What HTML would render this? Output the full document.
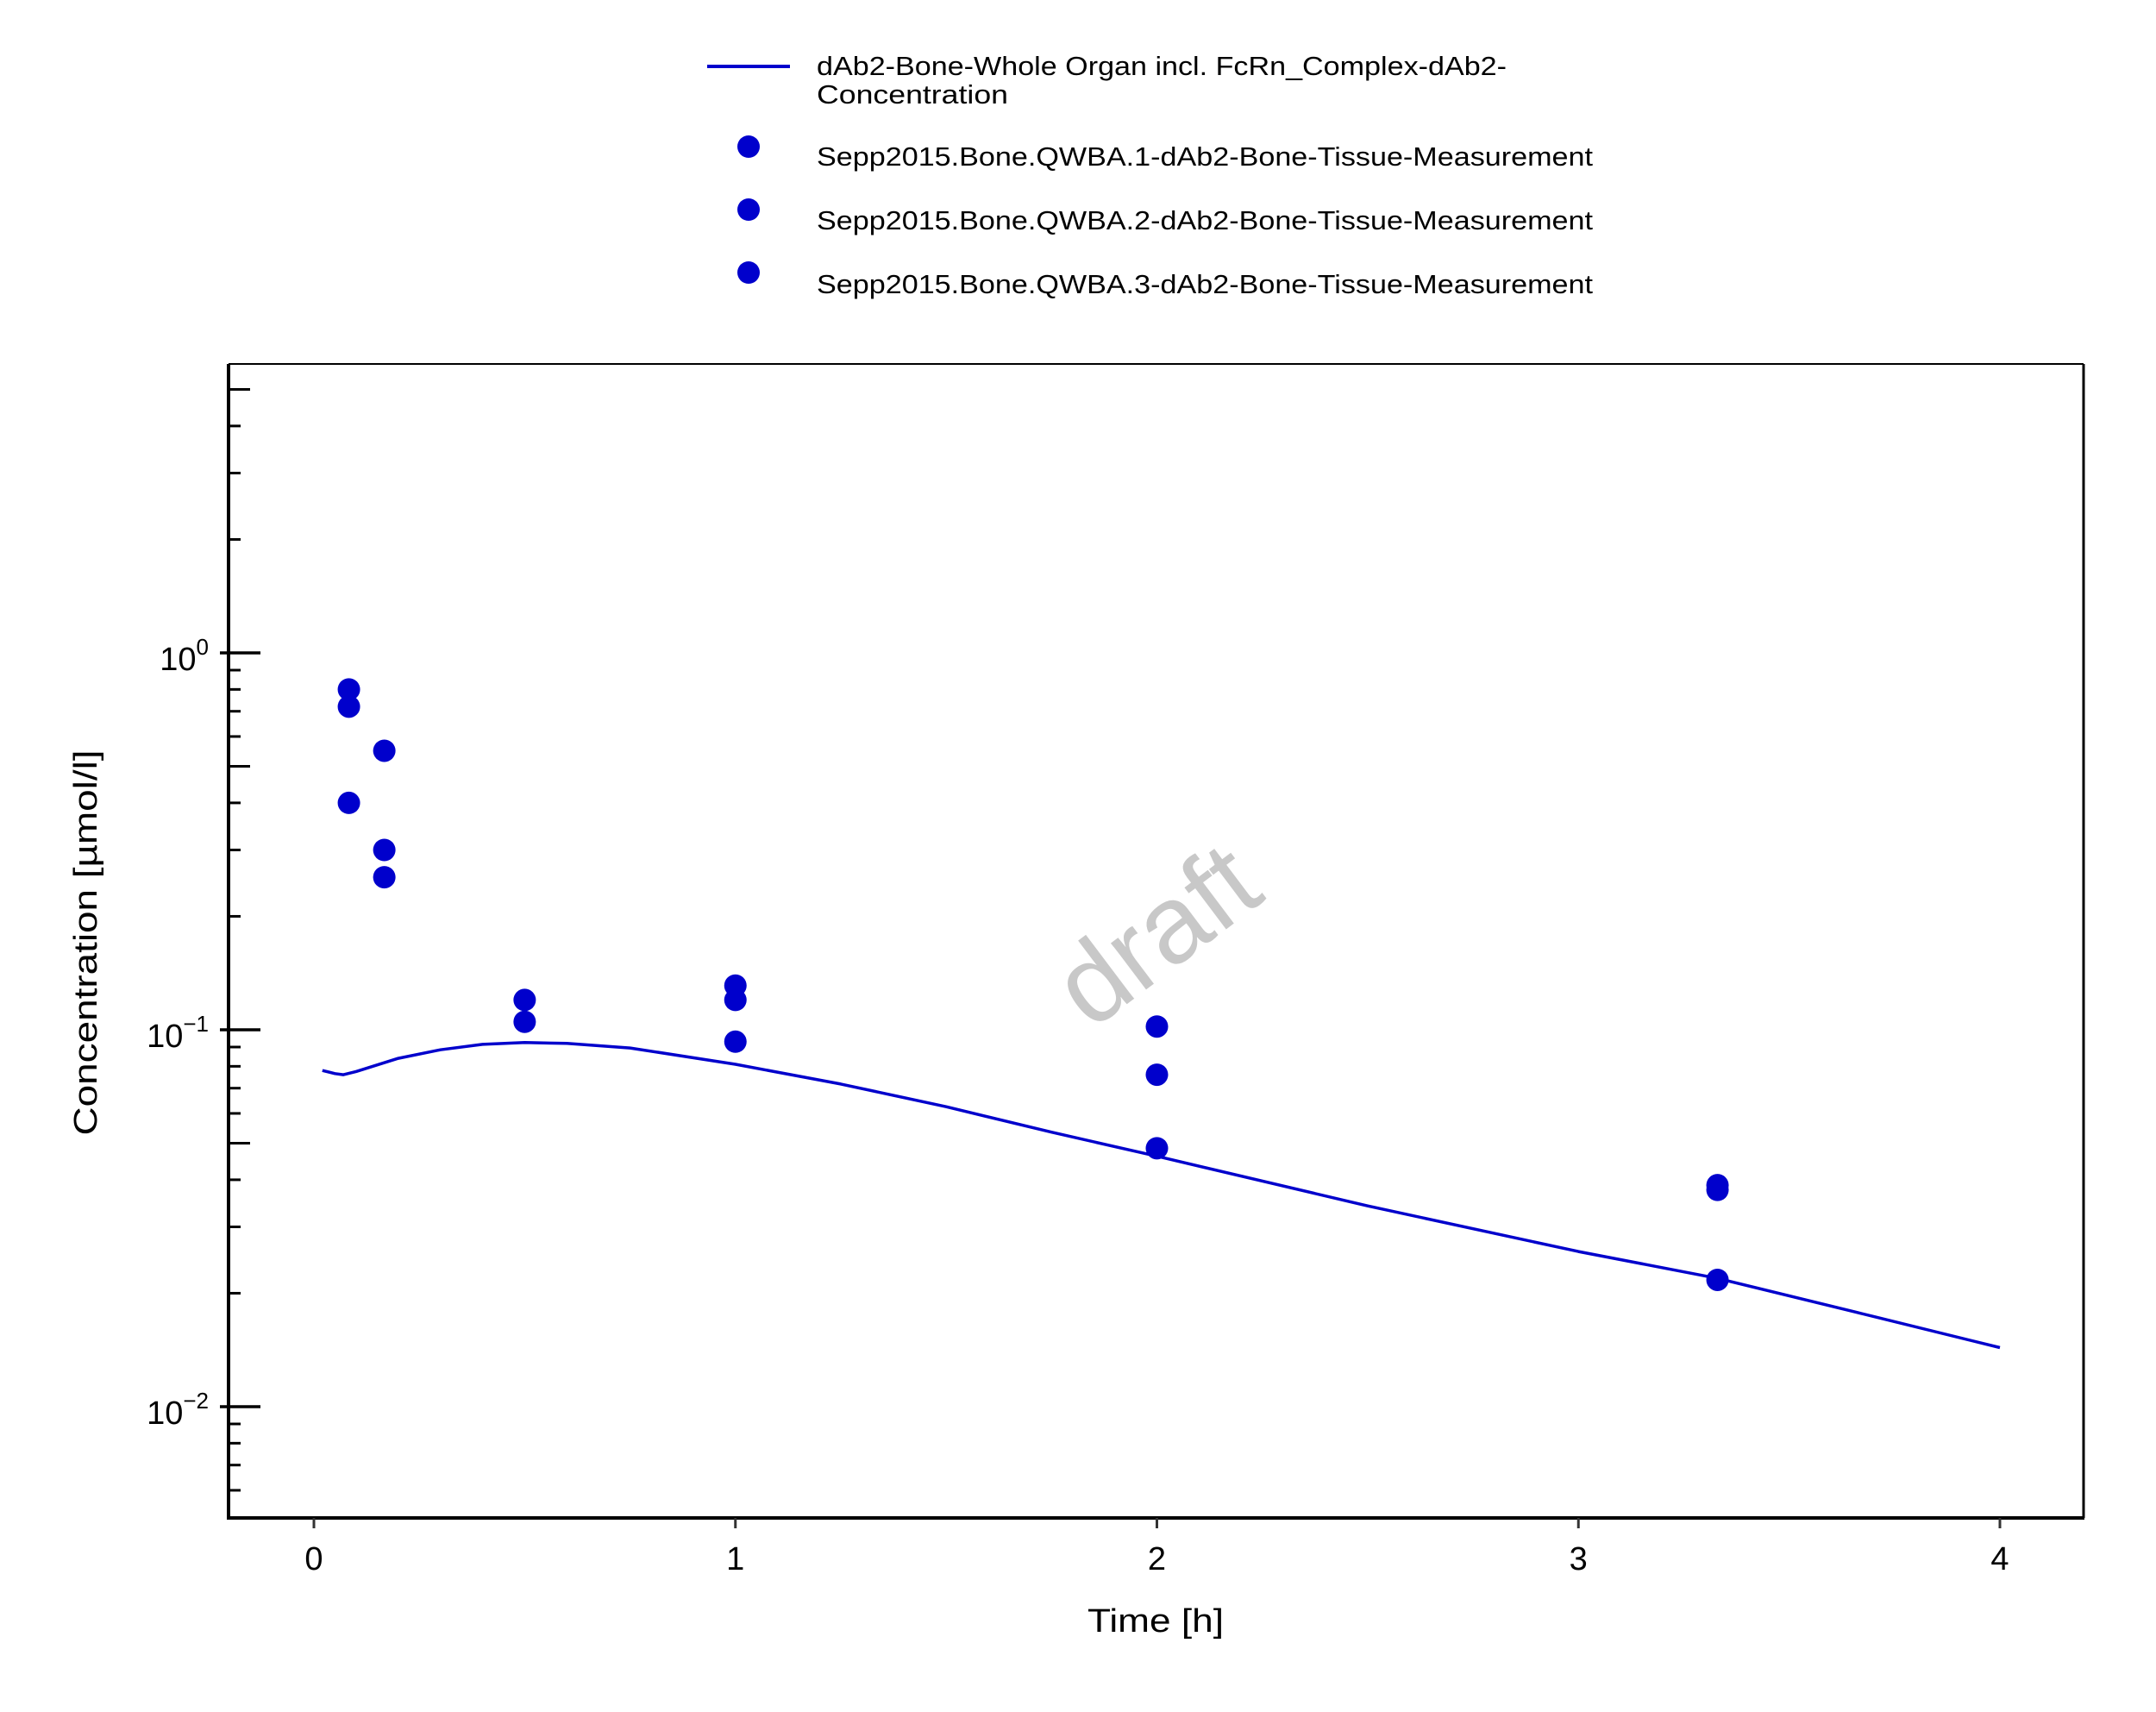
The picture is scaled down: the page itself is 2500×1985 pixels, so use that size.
<!DOCTYPE html>
<html><head><meta charset="utf-8"><style>
html,body{margin:0;padding:0;background:#fff;}
svg{display:block;font-family:"Liberation Sans","DejaVu Sans",sans-serif;}
</style></head><body>
<svg id="chart" width="2500" height="1985" viewBox="0 0 2500 1985" xmlns="http://www.w3.org/2000/svg">
<rect x="0" y="0" width="2500" height="1985" fill="#fff"/>
<g id="legend">
  <line x1="820" y1="77" x2="916" y2="77" stroke="#0000cc" stroke-width="4"/>
  <text x="947" y="87" font-size="31" fill="#000" textLength="800" lengthAdjust="spacingAndGlyphs">dAb2-Bone-Whole Organ incl. FcRn_Complex-dAb2-</text>
  <text x="947" y="120" font-size="31" fill="#000" textLength="222" lengthAdjust="spacingAndGlyphs">Concentration</text>
  <circle cx="868" cy="170" r="13" fill="#0000cc"/>
  <text x="947" y="192" font-size="31" textLength="900" lengthAdjust="spacingAndGlyphs">Sepp2015.Bone.QWBA.1-dAb2-Bone-Tissue-Measurement</text>
  <circle cx="868" cy="243" r="13" fill="#0000cc"/>
  <text x="947" y="266" font-size="31" textLength="900" lengthAdjust="spacingAndGlyphs">Sepp2015.Bone.QWBA.2-dAb2-Bone-Tissue-Measurement</text>
  <circle cx="868" cy="316" r="13" fill="#0000cc"/>
  <text x="947" y="340" font-size="31" textLength="900" lengthAdjust="spacingAndGlyphs">Sepp2015.Bone.QWBA.3-dAb2-Bone-Tissue-Measurement</text>
</g>
<g id="axes"></g>
<text x="1348" y="1125" font-size="128" fill="#c8c8c8" text-anchor="middle" transform="rotate(-37 1348 1093)">draft</text>
<g id="marks"></g>
<text x="1340" y="1892" font-size="38" text-anchor="middle" textLength="158" lengthAdjust="spacingAndGlyphs">Time [h]</text>
<text x="0" y="0" font-size="38" text-anchor="middle" textLength="447" lengthAdjust="spacingAndGlyphs" transform="translate(112 1093) rotate(-90)">Concentration [µmol/l]</text>
</svg>
<script>
// data
const xTicks = [0, 1, 2, 3, 4];
const yMajorExp = [-2, -1, 0];
const curveT = [0.02, 0.05, 0.07, 0.1, 0.2, 0.3, 0.4, 0.5, 0.6, 0.75, 1.0, 1.25, 1.5, 1.75, 2.0, 2.5, 3.0, 3.33, 3.66, 4.0];
const curveC = [0.078, 0.0765, 0.076, 0.0775, 0.084, 0.0885, 0.0915, 0.0925, 0.092, 0.0895, 0.081, 0.0718, 0.0625, 0.0535, 0.0462, 0.0341, 0.0258, 0.0219, 0.0178, 0.01435];
const qwba1T = [0.083, 0.167, 0.5, 1, 2, 3.33];
const qwba1C = [0.80, 0.55, 0.12, 0.131, 0.102, 0.0387];
const qwba2T = [0.083, 0.167, 0.5, 1, 2, 3.33];
const qwba2C = [0.72, 0.30, 0.105, 0.12, 0.076, 0.0376];
const qwba3T = [0.083, 0.167, 1, 2, 3.33];
const qwba3C = [0.40, 0.254, 0.093, 0.0485, 0.0217];

const NS = "http://www.w3.org/2000/svg";
const L = 265, R = 2416, T = 422, B = 1760;
const X0 = 364, XU = 488.75;
const Y0 = 757, DEC = 437;
function sx(t){ return X0 + t * XU; }
function sy(v){ return Y0 - DEC * Math.log10(v); }
function mk(tag, attrs, parent){
  const e = document.createElementNS(NS, tag);
  for (const k in attrs) e.setAttribute(k, attrs[k]);
  parent.appendChild(e);
  return e;
}
const axes = document.getElementById('axes');
const marks = document.getElementById('marks');

let e;
e = mk('line', {x1:L, y1:T, x2:R, y2:T, stroke:'#000', 'stroke-width':2}, axes);


e = mk('line', {x1:R, y1:T, x2:R, y2:B, stroke:'#000', 'stroke-width':3}, axes);


e = mk('line', {x1:L, y1:T, x2:L, y2:B+2, stroke:'#000', 'stroke-width':4}, axes);


e = mk('line', {x1:L-2, y1:B, x2:R+1, y2:B, stroke:'#000', 'stroke-width':4}, axes);



xTicks.forEach(t => {
  const x = sx(t);
  let tk = mk('line', {x1:x, y1:B, x2:x, y2:B+12, stroke:'#333', 'stroke-width':3}, axes);
  
  
  let lb = mk('text', {x:x, y:B+60, 'font-size':38, 'text-anchor':'middle'}, axes);
  lb.textContent = String(t);
  
  
});

yMajorExp.forEach(p => {
  const y = sy(Math.pow(10, p));
  let tk = mk('line', {x1:L-10, y1:y, x2:L+37, y2:y, stroke:'#000', 'stroke-width':3.5}, axes);
  
  
  let lb = mk('text', {x:242, y:y+20, 'font-size':38, 'text-anchor':'end'}, axes);
  
  
  const b = document.createElementNS(NS, 'tspan'); b.textContent = '10'; lb.appendChild(b);
  const s = document.createElementNS(NS, 'tspan');
  s.setAttribute('dy', '-18'); s.setAttribute('font-size', '26');
  s.textContent = p === 0 ? '0' : '\u2212' + Math.abs(p);
  lb.appendChild(s);
});
for (let p = -3; p <= 0; p++) {
  for (let m = 2; m <= 9; m++) {
    const v = m * Math.pow(10, p);
    const y = sy(v);
    if (y < T + 5 || y > B - 5) continue;
    const len = m === 5 ? 25 : 14;
    let tk = mk('line', {x1:L, y1:y, x2:L+len, y2:y, stroke:'#000', 'stroke-width':3}, axes);
    
    
  }
}

const d = curveT.map((t, i) => (i ? 'L' : 'M') + sx(t).toFixed(1) + ' ' + sy(curveC[i]).toFixed(1)).join(' ');
let path = mk('path', {d:d, fill:'none', stroke:'#0000cc', 'stroke-width':3.5, 'stroke-linejoin':'round'}, marks);



function drawPts(ts, cs, name){
  ts.forEach((t, i) => {
    const c = mk('circle', {cx:sx(t), cy:sy(cs[i]), r:13, fill:'#0000cc'}, marks);
    
    
  });
}
drawPts(qwba1T, qwba1C, 'qwba1-point');
drawPts(qwba2T, qwba2C, 'qwba2-point');
drawPts(qwba3T, qwba3C, 'qwba3-point');
</script>
</body></html>
